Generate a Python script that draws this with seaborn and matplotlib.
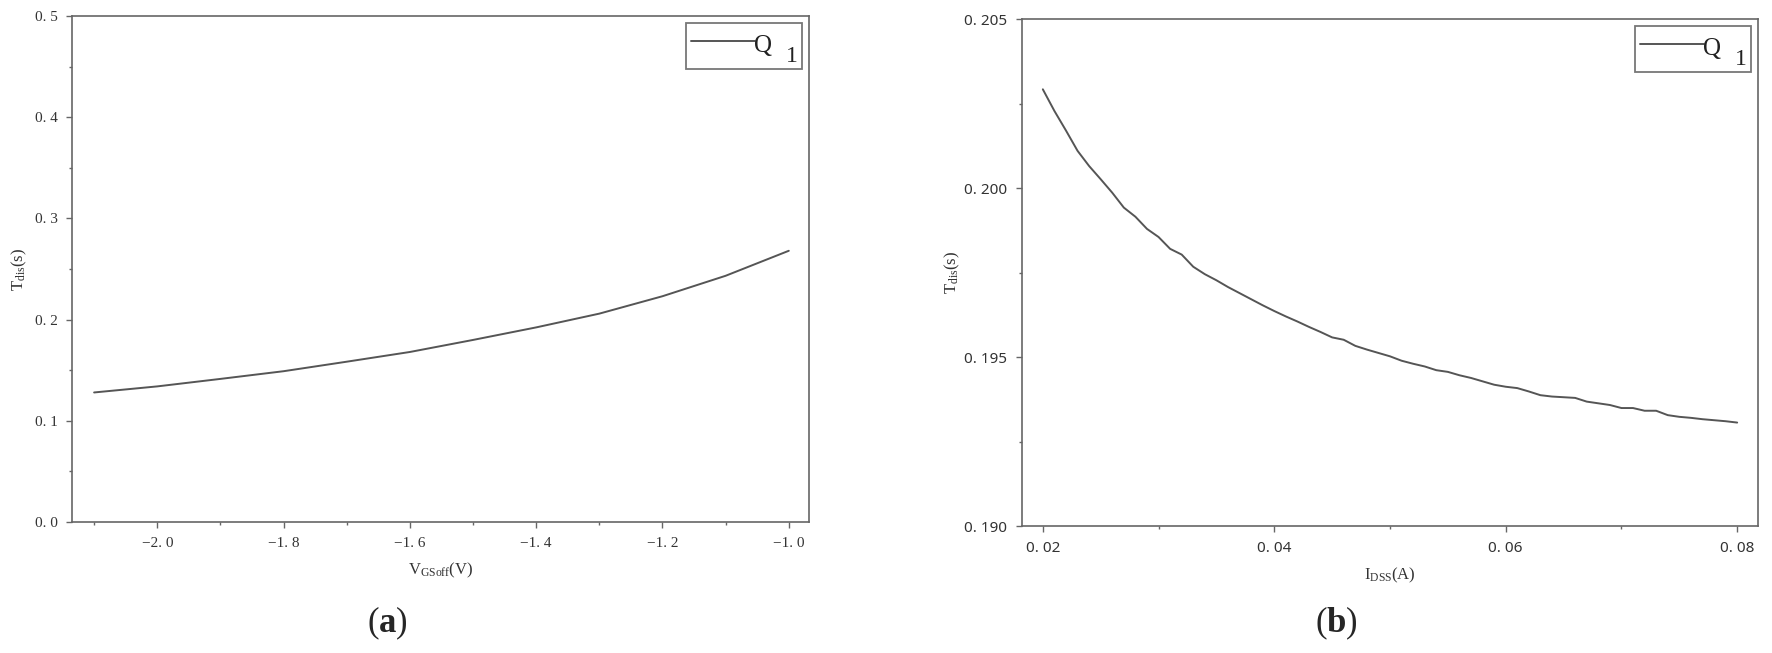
import pandas as pd
import matplotlib
matplotlib.use('Agg')
import matplotlib.pyplot as plt
import seaborn as sns
from matplotlib.ticker import MultipleLocator, FuncFormatter
from matplotlib.legend_handler import HandlerBase
from matplotlib.lines import Line2D
from matplotlib.text import Text

# (a) T_dis vs V_GSoff
vgs = [-2.1, -2.0, -1.9, -1.8, -1.7, -1.6, -1.5, -1.4, -1.3, -1.2, -1.1, -1.0]
tdis_a = [0.128, 0.134, 0.1414, 0.149, 0.1584, 0.168, 0.1799, 0.1923, 0.2059, 0.2231, 0.2433, 0.268]

# (b) T_dis vs I_DSS
idss = [0.020, 0.021, 0.022, 0.023, 0.024, 0.025, 0.026, 0.027, 0.028, 0.029,
        0.030, 0.031, 0.032, 0.033, 0.034, 0.035, 0.036, 0.037, 0.038, 0.039,
        0.040, 0.041, 0.042, 0.043, 0.044, 0.045, 0.046, 0.047, 0.048, 0.049,
        0.050, 0.051, 0.052, 0.053, 0.054, 0.055, 0.056, 0.057, 0.058, 0.059,
        0.060, 0.061, 0.062, 0.063, 0.064, 0.065, 0.066, 0.067, 0.068, 0.069,
        0.070, 0.071, 0.072, 0.073, 0.074, 0.075, 0.076, 0.077, 0.078, 0.079, 0.080]
tdis_b = [0.20292, 0.20228, 0.20170, 0.20110, 0.20065, 0.20026, 0.19986, 0.19942, 0.19915, 0.19879,
          0.19855, 0.19820, 0.19803, 0.19767, 0.19745, 0.19727, 0.19707, 0.19689, 0.19671, 0.19653,
          0.19636, 0.19620, 0.19605, 0.19589, 0.19574, 0.19558, 0.19551, 0.19533, 0.19522, 0.19512,
          0.19502, 0.19489, 0.19480, 0.19472, 0.19461, 0.19456, 0.19446, 0.19438, 0.19428, 0.19418,
          0.19412, 0.19408, 0.19398, 0.19387, 0.19383, 0.19381, 0.19379, 0.19368, 0.19363, 0.19358,
          0.19349, 0.19349, 0.19341, 0.19341, 0.19328, 0.19323, 0.19320, 0.19316, 0.19313, 0.19310, 0.19306]

series_name = 'Q'
series_sub = '1'

df_a = pd.DataFrame({'x': vgs, 'y': tdis_a})
df_b = pd.DataFrame({'x': idss, 'y': tdis_b})

sns.set_style('ticks')
plt.rcParams['font.family'] = ['Liberation Serif', 'DejaVu Serif']
plt.rcParams['mathtext.fontset'] = 'custom'
plt.rcParams['mathtext.rm'] = 'Liberation Serif'
plt.rcParams['mathtext.it'] = 'Liberation Serif:italic'
plt.rcParams['mathtext.bf'] = 'Liberation Serif:bold'

spine_c = '#666666'
line_c = '#555555'


class HandlerQ(HandlerBase):
    # line + "Q" + lowered "1", all inside the handle box
    def create_artists(self, legend, orig_handle, xdescent, ydescent,
                       width, height, fontsize, trans):
        x0, y0 = -xdescent, -ydescent
        lx = x0 + width * 0.60
        ln = Line2D([x0, lx], [y0 + height * 0.62] * 2, color=line_c, lw=1.4, transform=trans)
        q = Text(lx - 0.5, y0 + height * 0.32, series_name, fontsize=fontsize + 2,
                 color='#222222', ha='left', va='baseline', transform=trans)
        one = Text(x0 + width, y0 + height * 0.06, series_sub, fontsize=fontsize + 1,
                   color='#222222', ha='right', va='baseline', transform=trans)
        return [ln, q, one]


fig = plt.figure(figsize=(17.72, 6.53), dpi=100)
ax1 = fig.add_axes([72/1772, 1-522/653, (809-72)/1772, (522-16)/653])
ax2 = fig.add_axes([1022/1772, 1-526/653, (1758-1022)/1772, (526-19)/653])


def fmt(decimals):
    def f(v, pos):
        s = f'{v:.{decimals}f}'.replace('-', '\u2212')
        return s.replace('.', '. ')
    return FuncFormatter(f)


def style(ax, tick_font, tick_size):
    for sp in ax.spines.values():
        sp.set_color(spine_c)
        sp.set_linewidth(1.2)
    ax.tick_params(which='major', direction='out', length=4.5, width=1, color=spine_c,
                   labelsize=tick_size, labelcolor='#333333', pad=6)
    ax.tick_params(which='minor', direction='out', length=2.5, width=1, color=spine_c)
    for lab in ax.get_xticklabels() + ax.get_yticklabels():
        lab.set_fontfamily(tick_font)


def legend(ax):
    line = ax.get_lines()[0]
    leg = ax.legend([line], [''], handler_map={line: HandlerQ()}, loc='upper right',
                    fontsize=16, frameon=True, fancybox=False,
                    handlelength=4.8, handleheight=2.15, handletextpad=0.0,
                    borderpad=0.22, borderaxespad=0.3)
    fr = leg.get_frame()
    fr.set_edgecolor(line_c)
    fr.set_linewidth(1.3)


# panel (a)
sns.lineplot(data=df_a, x='x', y='y', ax=ax1, color=line_c, linewidth=1.4)
ax1.set_xlim(-2.135, -0.968)
ax1.set_ylim(0.0, 0.5)
ax1.xaxis.set_major_locator(MultipleLocator(0.2))
ax1.xaxis.set_minor_locator(MultipleLocator(0.1))
ax1.yaxis.set_major_locator(MultipleLocator(0.1))
ax1.yaxis.set_minor_locator(MultipleLocator(0.05))
ax1.xaxis.set_major_formatter(fmt(1))
ax1.yaxis.set_major_formatter(fmt(1))
ax1.set_xlabel(r'V$_{\mathrm{GSoff}}$(V)', fontsize=12, color='#333333', labelpad=8)
ax1.set_ylabel(r'T$_{\mathrm{dis}}$(s)', fontsize=12, color='#333333', labelpad=4)
style(ax1, 'Liberation Serif', 11)
legend(ax1)

# panel (b)
sns.lineplot(data=df_b, x='x', y='y', ax=ax2, color=line_c, linewidth=1.4)
ax2.set_xlim(0.0182, 0.0818)
ax2.set_ylim(0.190, 0.205)
ax2.xaxis.set_major_locator(MultipleLocator(0.02))
ax2.xaxis.set_minor_locator(MultipleLocator(0.01))
ax2.yaxis.set_major_locator(MultipleLocator(0.005))
ax2.yaxis.set_minor_locator(MultipleLocator(0.0025))
ax2.xaxis.set_major_formatter(fmt(2))
ax2.yaxis.set_major_formatter(fmt(3))
ax2.set_xlabel(r'I$_{\mathrm{DSS}}$(A)', fontsize=12, color='#333333', labelpad=7)
ax2.set_ylabel(r'T$_{\mathrm{dis}}$(s)', fontsize=12, color='#333333', labelpad=2)
style(ax2, 'Noto Sans', 11)
legend(ax2)

fig.text(387/1772, 1-623/653, r'($\mathbf{a}$)', fontsize=25, ha='center', va='center')
fig.text(1336/1772, 1-623/653, r'($\mathbf{b}$)', fontsize=25, ha='center', va='center')

fig.savefig('out.png', dpi=100, facecolor='white')
